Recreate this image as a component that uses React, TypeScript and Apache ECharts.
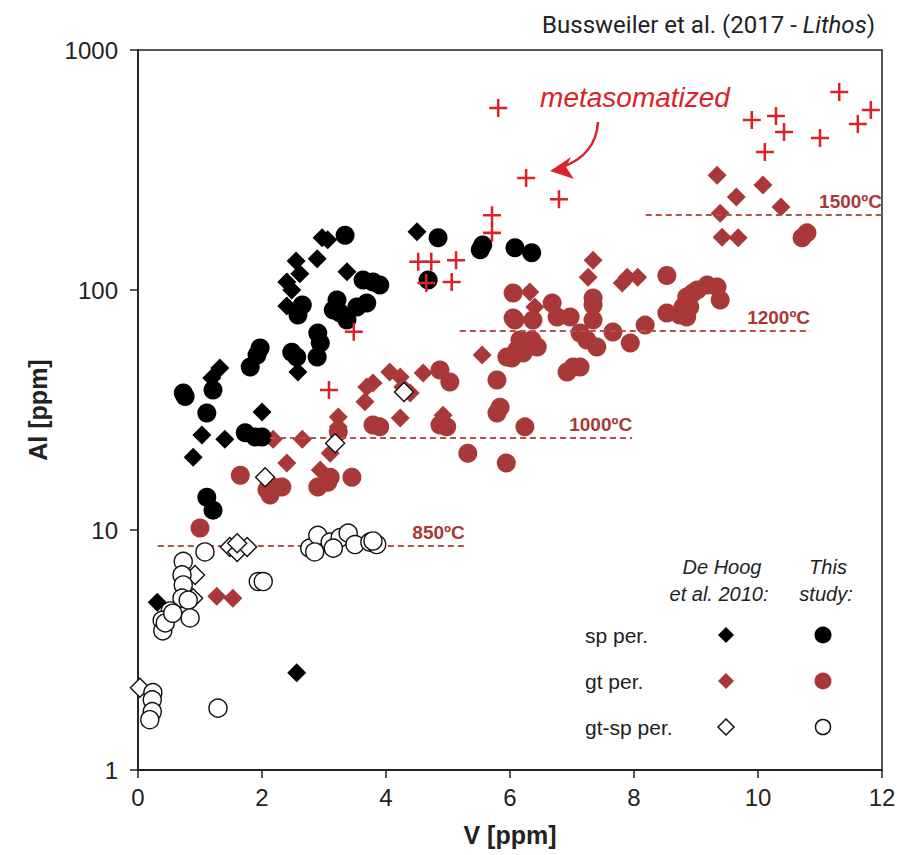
import React, { useEffect, useRef } from "react";
import * as echarts from "echarts";

// ---- data: [V ppm, Al ppm] ----
const spDeHoog = [
  [0.31, 5.0], [0.89, 20.1], [1.03, 24.9], [1.4, 23.9], [1.19, 43], [1.32, 47.3],
  [2.0, 31], [2.58, 45.5], [2.4, 85.8], [2.48, 100], [2.4, 108], [2.61, 117],
  [2.55, 132], [2.89, 135], [2.97, 165], [3.06, 162], [3.37, 119], [2.56, 2.54], [4.5, 175],
];
const spThis = [
  [0.73, 37.2], [0.76, 36], [1.11, 30.7], [1.21, 38.3], [1.81, 47.8], [1.97, 57.3], [1.92, 53.6],
  [1.73, 25.4], [1.89, 24.4], [2.0, 24.4], [1.11, 13.7], [1.21, 12.1], [2.56, 52.6],
  [2.48, 55], [2.65, 86.6], [2.58, 78.7], [2.9, 66.2], [2.94, 60.1], [2.89, 52.6],
  [3.21, 90.9], [3.26, 80.2], [3.37, 75], [3.53, 84.9], [3.69, 88.3], [3.15, 82.5],
  [3.63, 110], [3.79, 108], [3.9, 105], [3.34, 169], [4.68, 110], [4.84, 165],
  [5.52, 147], [5.56, 154], [6.08, 150], [6.35, 143],
];
const gtDeHoog = [
  [1.27, 5.3], [1.53, 5.2], [2.18, 23.9], [2.65, 23.9], [2.4, 19], [3.1, 20.9],
  [2.94, 17.8], [3.23, 29.6], [3.23, 26.9], [3.69, 39.4], [3.66, 34.2], [3.79, 41],
  [4.06, 45.5], [4.23, 43.4], [4.27, 39.4], [4.39, 37.2], [4.23, 29.3], [4.6, 45.1],
  [4.92, 30.1], [5.55, 53.6], [6.4, 84.9], [6.32, 98], [7.34, 133], [7.26, 113],
  [7.89, 113], [8.06, 113], [7.81, 107], [9.34, 301], [10.08, 274], [9.65, 244],
  [9.39, 209], [10.37, 222], [9.42, 166], [9.68, 165],
];
const gtThis = [
  [1.0, 10.2], [1.65, 16.9], [2.08, 14.7], [2.18, 15.1], [2.32, 15.1], [2.13, 14],
  [2.9, 15.1], [3.1, 16.6], [3.06, 15.8], [3.45, 16.6], [3.23, 25.6], [3.79, 27.4],
  [3.9, 26.9], [4.87, 46.4], [5.03, 41.4], [4.87, 27.4], [4.98, 26.9], [5.32, 20.9],
  [5.79, 42.2], [5.84, 32.5], [5.79, 30.7], [6.24, 26.9], [5.94, 19], [6.03, 52.1],
  [6.11, 56.2], [6.19, 60.1], [6.27, 57.3], [6.08, 75], [6.37, 75], [6.35, 61.9],
  [6.44, 57.9], [6.76, 77.2], [6.97, 77.2], [7.13, 66.2], [7.24, 61.9], [7.4, 57.9],
  [6.92, 45.5], [7.02, 47.8], [7.13, 47.8], [7.66, 66.8], [7.94, 60.1], [8.18, 71.4],
  [7.34, 86.6], [6.68, 88.3], [6.05, 97.2], [6.05, 76.4], [7.34, 92.6], [7.34, 75],
  [8.53, 115], [8.53, 80.2], [8.85, 93.5], [9.02, 100], [9.18, 105], [9.34, 103],
  [9.39, 90.9], [8.9, 84.9], [8.74, 78.7], [6.16, 61.9], [6.21, 54.6], [5.95, 52.6],
  [10.71, 165], [10.79, 173], [8.95, 97.2], [8.79, 84.9], [8.85, 77.2],
];
const gtspDeHoog = [
  [0.03, 2.2], [0.92, 6.5], [0.89, 5.2], [1.48, 8.5], [1.6, 8.1], [1.76, 8.5],
  [1.6, 8.8], [2.05, 16.6], [3.18, 23], [4.29, 37.6],
];
const gtspThis = [
  [1.08, 8.1], [0.73, 7.4], [0.71, 6.5], [0.73, 5.9], [0.71, 5.2], [0.81, 5.1], [0.84, 4.3],
  [0.52, 4.6], [0.39, 4.2], [0.4, 3.8], [0.44, 4.1], [0.56, 4.5], [1.94, 6.1],
  [2.02, 6.1], [1.29, 1.81], [0.24, 2.1], [0.23, 1.96], [0.23, 1.75], [0.19, 1.62],
  [2.77, 8.4], [2.9, 9.5], [3.1, 8.9], [3.26, 9.3], [3.39, 9.7], [3.5, 8.7],
  [3.74, 8.9], [3.85, 8.7], [2.85, 8.1], [3.15, 8.4], [3.79, 9.0],
];
const metasomatized = [
  [5.81, 573], [6.26, 293], [6.79, 239], [5.71, 205], [5.71, 173], [4.52, 131],
  [4.73, 131], [5.13, 133], [4.65, 107], [5.06, 108], [3.48, 67], [3.08, 38.3],
  [9.9, 511], [10.29, 531], [10.42, 455], [10.11, 376], [11.0, 430], [11.31, 668],
  [11.61, 492], [11.82, 562],
];

// isotherms
const tempLabels = ["850ºC", "1000ºC", "1200ºC", "1500ºC"];
const tempAl = [8.6, 24.2, 67.5, 205];
const tempVStart = [0.32, 2.13, 5.19, 8.19];
const tempVEnd = [5.27, 7.97, 10.84, 12];

const xTicks = { min: 0, max: 12, interval: 2 };
const yRange = { min: 1, max: 1000 };

const DARK_RED = "#a93838";
const CROSS_RED = "#dc2229";
const FONT = "Arial, 'Liberation Sans', sans-serif";

const CROSS = "path://M43,0h14v100h-14z M0,43h100v14h-100z";

export default function App() {
  const ref = useRef<HTMLDivElement>(null);
  useEffect(() => {
    if (!ref.current) return;
    const chart = echarts.init(ref.current, null, { renderer: "svg" });

    const diamondPts = (cx: number, cy: number, h: number) => [
      [cx, cy - h], [cx + h, cy], [cx, cy + h], [cx - h, cy],
    ];

    const option: any = {
      animation: false,
      backgroundColor: "#fff",
      title: {
        text: "{n|Bussweiler et al. (2017 - }{i|Lithos}{n|)}",
        right: 28,
        top: 8,
        textStyle: {
          fontWeight: "normal",
          rich: {
            n: { fontFamily: "Roboto", fontSize: 24, fontWeight: "normal", color: "#222" },
            i: { fontFamily: "Roboto", fontSize: 24, fontWeight: "normal", fontStyle: "italic", color: "#222" },
          },
        },
      },
      grid: { left: 138, right: 26, top: 50, bottom: 85, show: true, borderColor: "#222", borderWidth: 1.5, containLabel: false, outerBoundsMode: "none" },
      xAxis: {
        type: "value",
        min: xTicks.min,
        max: xTicks.max,
        interval: xTicks.interval,
        name: "V [ppm]",
        nameLocation: "middle",
        nameGap: 52,
        nameTextStyle: { fontFamily: FONT, fontSize: 25, fontWeight: "bold", color: "#222" },
        axisLine: { lineStyle: { color: "#222", width: 1.8 } },
        axisTick: { show: true, inside: false, length: 8, lineStyle: { color: "#222", width: 1.5 } },
        axisLabel: { fontFamily: FONT, fontSize: 24, color: "#222", margin: 15 },
        splitLine: { show: false },
      },
      yAxis: {
        type: "log",
        logBase: 10,
        min: yRange.min,
        max: yRange.max,
        name: "Al [ppm]",
        nameLocation: "middle",
        nameGap: 88,
        nameTextStyle: { fontFamily: FONT, fontSize: 25, fontWeight: "bold", color: "#222" },
        axisLine: { lineStyle: { color: "#222", width: 1.8 } },
        axisTick: { show: true, inside: false, length: 8, lineStyle: { color: "#222", width: 1.5 } },
        axisLabel: { fontFamily: FONT, fontSize: 24, color: "#222", margin: 20, formatter: (v: number) => String(Math.round(v)) },
        splitLine: { show: false },
        minorTick: { show: false },
      },
      series: [
        {
          type: "scatter",
          data: [],
          z: 1,
          markLine: {
            silent: true,
            symbol: ["none", "none"],
            lineStyle: { color: "#b5504f", width: 2, type: [6, 4] },
            label: {
              show: true,
              position: "insideEndTop",
              formatter: "{b}",
              color: DARK_RED,
              fontFamily: FONT,
              fontSize: 19,
              fontWeight: "bold",
              distance: [0, 4],
            },
            data: tempLabels.map((t, i) => [
              { name: t, coord: [tempVStart[i], tempAl[i]] },
              { coord: [tempVEnd[i], tempAl[i]] },
            ]),
          },
        },
        {
          name: "gt De Hoog", type: "scatter", data: gtDeHoog, symbol: "diamond", symbolSize: 19, z: 2,
          itemStyle: { color: DARK_RED, opacity: 1 },
        },
        {
          name: "gt This", type: "scatter", data: gtThis, symbol: "circle", symbolSize: 19, z: 3,
          itemStyle: { color: DARK_RED, opacity: 1 },
        },
        {
          name: "sp De Hoog", type: "scatter", data: spDeHoog, symbol: "diamond", symbolSize: 19, z: 4,
          itemStyle: { color: "#000", opacity: 1 },
        },
        {
          name: "sp This", type: "scatter", data: spThis, symbol: "circle", symbolSize: 19, z: 4,
          itemStyle: { color: "#000", opacity: 1 },
        },
        {
          name: "gt-sp De Hoog", type: "scatter", data: gtspDeHoog, symbol: "diamond", symbolSize: 19, z: 5,
          itemStyle: { color: "#fff", borderColor: "#111", borderWidth: 1.4, opacity: 1 },
        },
        {
          name: "gt-sp This", type: "scatter", data: gtspThis, symbol: "circle", symbolSize: 18, z: 5,
          itemStyle: { color: "#fff", borderColor: "#111", borderWidth: 1.4, opacity: 1 },
        },
        {
          name: "metasomatized", type: "scatter", data: metasomatized, symbol: CROSS, symbolSize: 18, z: 6,
          itemStyle: { color: CROSS_RED, opacity: 1 },
        },
      ],
      graphic: [
        {
          type: "text", x: 635, y: 97, z: 10,
          style: { text: "metasomatized", fill: CROSS_RED, font: `italic 28px ${FONT}`, textAlign: "center", textVerticalAlign: "middle" },
        },
        {
          type: "bezierCurve", z: 10,
          shape: { x1: 598, y1: 122, cpx1: 596, cpy1: 155, x2: 562, y2: 167 },
          style: { stroke: CROSS_RED, lineWidth: 2.5, fill: null },
        },
        {
          type: "polygon", z: 10,
          shape: { points: [[550, 171], [571, 157], [566, 167], [574, 179]] },
          style: { fill: CROSS_RED },
        },
        // legend
        { type: "text", x: 722, y: 567, style: { text: "De Hoog", fill: "#222", font: `italic 20px ${FONT}`, textAlign: "center", textVerticalAlign: "middle" } },
        { type: "text", x: 719, y: 594, style: { text: "et al. 2010:", fill: "#222", font: `italic 20px ${FONT}`, textAlign: "center", textVerticalAlign: "middle" } },
        { type: "text", x: 828, y: 567, style: { text: "This", fill: "#222", font: `italic 20px ${FONT}`, textAlign: "center", textVerticalAlign: "middle" } },
        { type: "text", x: 826, y: 594, style: { text: "study:", fill: "#222", font: `italic 20px ${FONT}`, textAlign: "center", textVerticalAlign: "middle" } },
        { type: "text", x: 585, y: 635, style: { text: "sp per.", fill: "#222", font: `21px ${FONT}`, textAlign: "left", textVerticalAlign: "middle" } },
        { type: "text", x: 585, y: 681, style: { text: "gt per.", fill: "#222", font: `21px ${FONT}`, textAlign: "left", textVerticalAlign: "middle" } },
        { type: "text", x: 585, y: 727, style: { text: "gt-sp per.", fill: "#222", font: `21px ${FONT}`, textAlign: "left", textVerticalAlign: "middle" } },
        { type: "polygon", shape: { points: diamondPts(726, 635, 8) }, style: { fill: "#000" } },
        { type: "polygon", shape: { points: diamondPts(726, 681, 8) }, style: { fill: DARK_RED } },
        { type: "polygon", shape: { points: diamondPts(726, 727, 8) }, style: { fill: "#fff", stroke: "#111", lineWidth: 1.5 } },
        { type: "circle", shape: { cx: 823, cy: 635, r: 8.5 }, style: { fill: "#000" } },
        { type: "circle", shape: { cx: 823, cy: 681, r: 8.5 }, style: { fill: DARK_RED } },
        { type: "circle", shape: { cx: 823, cy: 727, r: 7.5 }, style: { fill: "#fff", stroke: "#111", lineWidth: 1.5 } },
      ],
    };
    chart.setOption(option);
    return () => chart.dispose();
  }, []);
  return <div ref={ref} style={{ width: 908, height: 855, position: "absolute", left: 0, top: 0 }} />;
}
